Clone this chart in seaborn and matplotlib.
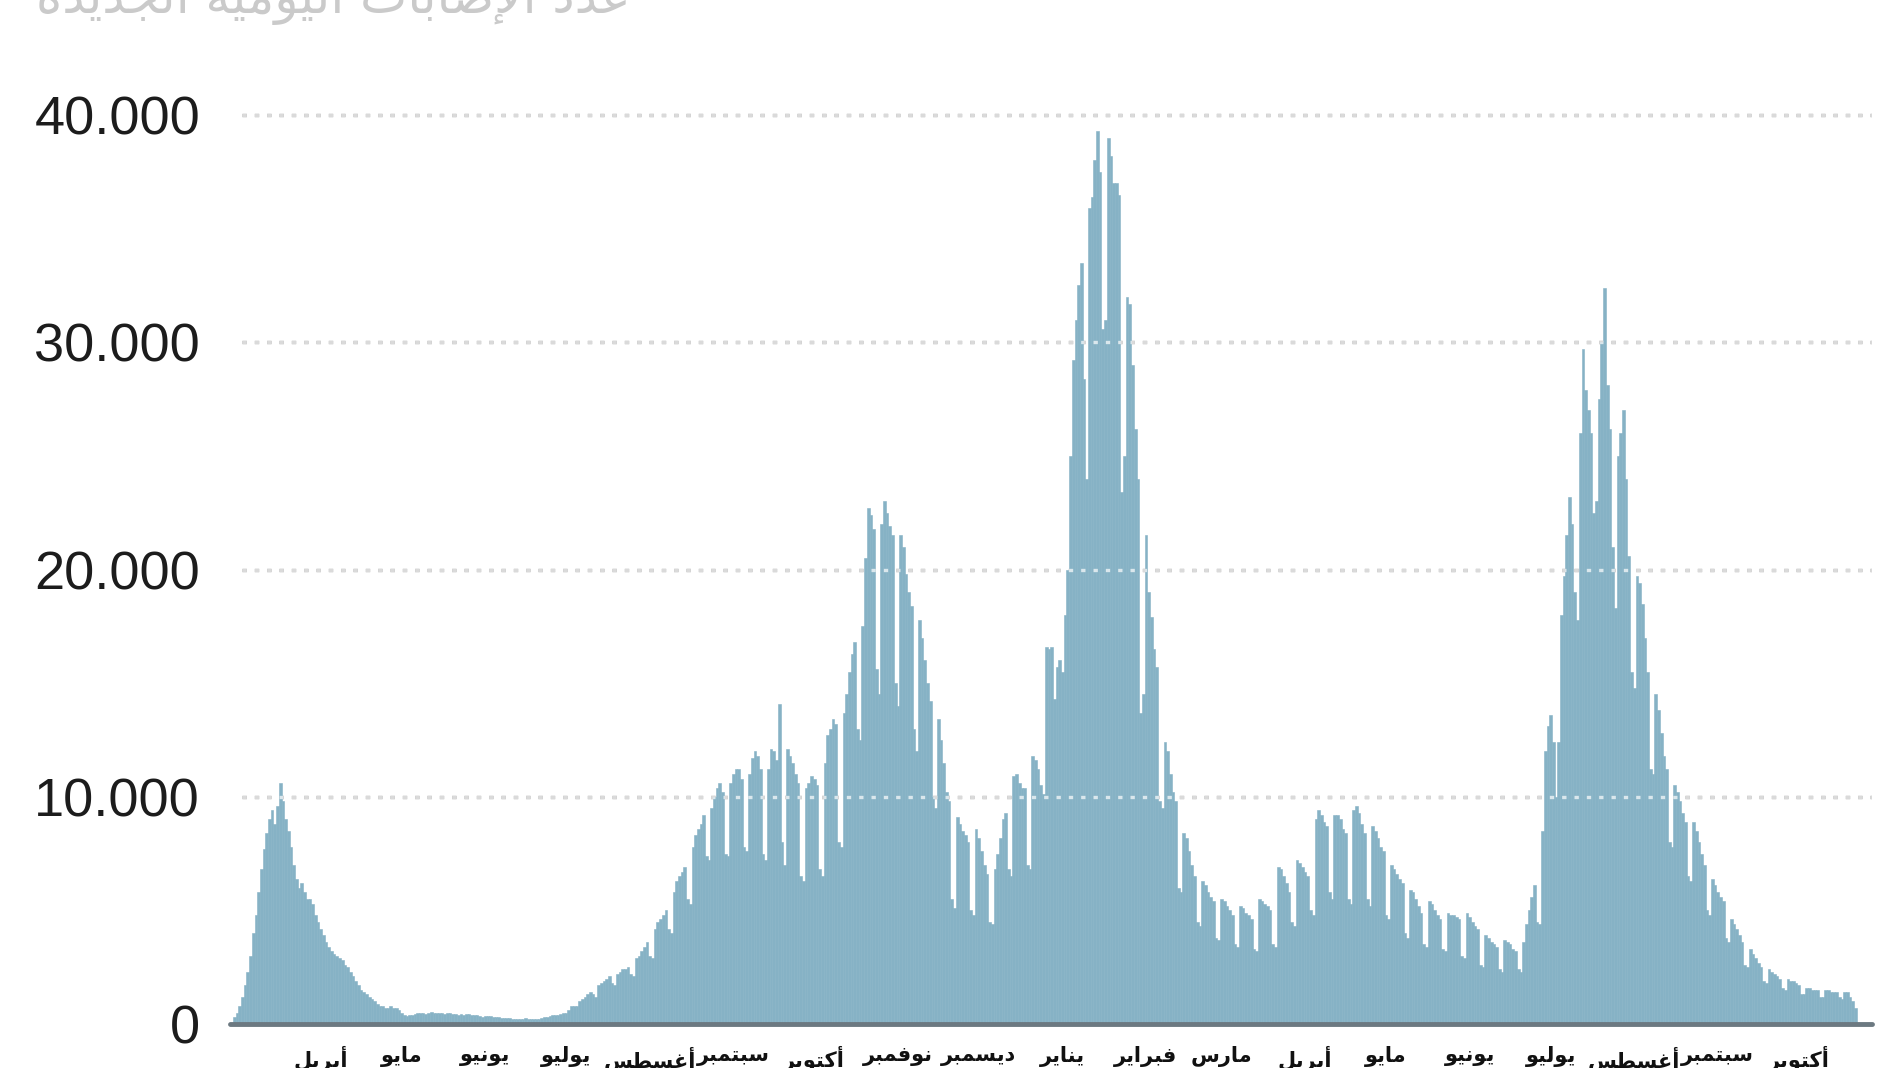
import numpy as np
import pandas as pd
import matplotlib
matplotlib.use("Agg")
import matplotlib.pyplot as plt
import seaborn as sns

# ---------------- data (daily new cases, thousands; rows = weeks Sat..Fri) ----------------
start_date = "2020-02-29"

wave1_weeks = [
    [0.3, 0.5, 0.8, 1.2, 1.7, 2.3, 3.0],
    [4.0, 4.8, 5.8, 6.8, 7.7, 8.4, 9.0],
    [9.4, 8.8, 9.6, 10.6, 9.8, 9.0, 8.5],
    [7.8, 7.0, 6.4, 6.0, 6.2, 5.8, 5.5],
    [5.5, 5.3, 4.8, 4.5, 4.2, 3.9, 3.6],
    [3.4, 3.2, 3.1, 3.0, 2.9, 2.8, 2.6],
    [2.5, 2.3, 2.1, 1.9, 1.7, 1.5, 1.4],
    [1.3, 1.2, 1.1, 1.0, 0.9, 0.8, 0.8],
    [0.7, 0.7, 0.8, 0.7, 0.7, 0.6, 0.5],
]
summer_weeks = [
    [0.4, 0.35, 0.4, 0.4, 0.45, 0.5, 0.5],
    [0.5, 0.45, 0.5, 0.55, 0.5, 0.5, 0.5],
    [0.5, 0.45, 0.5, 0.5, 0.45, 0.45, 0.4],
    [0.45, 0.4, 0.45, 0.45, 0.4, 0.4, 0.4],
    [0.35, 0.3, 0.35, 0.35, 0.35, 0.3, 0.3],
    [0.3, 0.25, 0.25, 0.25, 0.25, 0.2, 0.2],
    [0.2, 0.2, 0.2, 0.25, 0.2, 0.2, 0.2],
    [0.2, 0.2, 0.25, 0.3, 0.3, 0.35, 0.4],
    [0.4, 0.4, 0.45, 0.5, 0.5, 0.6, 0.8],
]
wave2_weeks = [
    [0.8, 0.8, 1.0, 1.1, 1.2, 1.3, 1.4],
    [1.3, 1.2, 1.7, 1.8, 1.9, 2.0, 2.1],
    [1.8, 1.7, 2.2, 2.3, 2.4, 2.4, 2.5],
    [2.2, 2.1, 2.9, 3.0, 3.2, 3.4, 3.6],
    [3.0, 2.9, 4.2, 4.5, 4.6, 4.8, 5.0],
    [4.2, 4.0, 5.8, 6.3, 6.5, 6.7, 6.9],
    [5.5, 5.3, 7.8, 8.3, 8.6, 8.8, 9.2],
    [7.4, 7.2, 9.5, 10.0, 10.4, 10.6, 10.2],
    [7.5, 7.4, 10.6, 11.0, 11.2, 11.2, 10.8],
    [7.8, 7.6, 11.0, 11.7, 12.0, 11.8, 11.2],
    [7.5, 7.2, 11.2, 12.1, 12.0, 11.6, 14.1],
    [8.0, 7.0, 12.1, 11.8, 11.5, 11.0, 10.6],
    [6.5, 6.3, 10.4, 10.6, 10.9, 10.8, 10.5],
    [6.8, 6.5, 11.5, 12.7, 13.0, 13.4, 13.2],
    [8.0, 7.8, 13.7, 14.5, 15.5, 16.3, 16.8],
    [13.0, 12.5, 17.5, 20.5, 22.7, 22.4, 21.8],
    [15.6, 14.5, 22.0, 23.0, 22.5, 21.9, 21.5],
    [15.0, 14.0, 21.5, 21.0, 19.8, 19.0, 18.4],
    [13.0, 12.0, 17.8, 17.0, 16.0, 15.0, 14.2],
    [10.0, 9.5, 13.4, 12.5, 11.5, 10.2, 9.8],
    [5.5, 5.1, 9.1, 8.8, 8.5, 8.3, 8.0],
    [5.0, 4.8, 8.6, 8.2, 7.6, 7.0, 6.6],
]
wave3_weeks = [
    [4.5, 4.4, 6.8, 7.5, 8.2, 9.0, 9.3],
    [6.8, 6.5, 10.9, 11.0, 10.6, 10.4, 10.4],
    [7.0, 6.8, 11.8, 11.6, 11.2, 10.5, 10.1],
    [16.6, 16.5, 16.6, 14.3, 15.7, 16.0, 15.5],
    [18.0, 20.0, 25.0, 29.2, 31.0, 32.5, 33.5],
    [28.4, 24.0, 35.9, 36.4, 38.0, 39.3, 37.5],
    [30.6, 31.0, 39.0, 38.2, 37.0, 37.0, 36.5],
    [23.4, 25.0, 32.0, 31.7, 29.0, 26.2, 24.0],
    [13.7, 14.5, 21.5, 19.0, 17.9, 16.5, 15.7],
    [9.8, 9.5, 12.4, 12.0, 11.0, 10.2, 9.8],
    [6.0, 5.8, 8.4, 8.2, 7.6, 7.0, 6.5],
    [4.5, 4.3, 6.3, 6.1, 5.8, 5.6, 5.4],
    [3.8, 3.7, 5.5, 5.4, 5.2, 5.0, 4.8],
    [3.5, 3.4, 5.2, 5.1, 4.9, 4.8, 4.6],
    [3.3, 3.2, 5.5, 5.4, 5.3, 5.2, 5.0],
]
wave4_weeks = [
    [3.5, 3.4, 6.9, 6.8, 6.5, 6.2, 5.8],
    [4.5, 4.3, 7.2, 7.1, 6.9, 6.7, 6.5],
    [5.0, 4.8, 9.0, 9.4, 9.2, 8.9, 8.7],
    [5.8, 5.5, 9.2, 9.2, 9.0, 8.6, 8.4],
    [5.5, 5.3, 9.4, 9.6, 9.3, 8.8, 8.4],
    [5.5, 5.2, 8.7, 8.5, 8.2, 7.8, 7.6],
    [4.8, 4.6, 7.0, 6.8, 6.6, 6.4, 6.2],
    [4.0, 3.8, 5.9, 5.8, 5.5, 5.2, 4.9],
    [3.5, 3.4, 5.4, 5.3, 5.0, 4.8, 4.6],
    [3.3, 3.2, 4.9, 4.8, 4.8, 4.7, 4.6],
    [3.0, 2.9, 4.9, 4.7, 4.5, 4.3, 4.2],
    [2.6, 2.5, 3.9, 3.8, 3.6, 3.5, 3.4],
    [2.4, 2.3, 3.7, 3.6, 3.5, 3.3, 3.2],
]
wave5_weeks = [
    [2.4, 2.3, 3.6, 4.4, 5.0, 5.6, 6.1],
    [4.5, 4.4, 8.5, 12.0, 13.1, 13.6, 12.4],
    [10.0, 12.4, 18.0, 19.7, 21.5, 23.2, 22.0],
    [19.0, 17.8, 26.0, 29.7, 27.9, 27.0, 26.0],
    [22.5, 23.0, 27.5, 30.0, 32.4, 28.1, 26.2],
    [21.0, 18.3, 25.0, 26.0, 27.0, 24.0, 20.6],
    [15.5, 14.8, 19.7, 19.4, 18.5, 17.0, 15.5],
    [11.2, 11.0, 14.5, 13.8, 12.8, 11.8, 11.2],
    [8.0, 7.8, 10.5, 10.2, 9.8, 9.3, 8.9],
    [6.5, 6.3, 8.9, 8.5, 8.0, 7.5, 7.0],
    [5.0, 4.8, 6.4, 6.1, 5.8, 5.6, 5.4],
    [3.8, 3.6, 4.6, 4.4, 4.2, 3.9, 3.6],
    [2.6, 2.5, 3.3, 3.1, 2.9, 2.7, 2.5],
    [1.9, 1.8, 2.4, 2.3, 2.2, 2.1, 2.0],
    [1.6, 1.5, 2.0, 1.9, 1.9, 1.8, 1.7],
    [1.3, 1.3, 1.6, 1.6, 1.5, 1.5, 1.5],
    [1.2, 1.2, 1.5, 1.5, 1.4, 1.4, 1.4],
    [1.2, 1.1, 1.4, 1.4, 1.2, 1.0, 0.7],
]

y_ticks = [0, 10000, 20000, 30000, 40000]
month_names = ["أبريل", "مايو", "يونيو", "يوليو", "أغسطس", "سبتمبر", "أكتوبر",
               "نوفمبر", "ديسمبر", "يناير", "فبراير", "مارس", "أبريل", "مايو",
               "يونيو", "يوليو", "أغسطس", "سبتمبر", "أكتوبر"]
title_text = "عدد الإصابات اليومية الجديدة"

# ---------------- minimal Arabic shaping (presentation forms, visual order) ----------------
FORMS = {
    '\u0627': ('\uFE8D', '\uFE8E', None, None), '\u0623': ('\uFE83', '\uFE84', None, None),
    '\u0625': ('\uFE87', '\uFE88', None, None), '\u0622': ('\uFE81', '\uFE82', None, None),
    '\u0628': ('\uFE8F', '\uFE90', '\uFE91', '\uFE92'), '\u062A': ('\uFE95', '\uFE96', '\uFE97', '\uFE98'),
    '\u0629': ('\uFE93', '\uFE94', None, None), '\u062C': ('\uFE9D', '\uFE9E', '\uFE9F', '\uFEA0'),
    '\u062D': ('\uFEA1', '\uFEA2', '\uFEA3', '\uFEA4'), '\u062F': ('\uFEA9', '\uFEAA', None, None),
    '\u0631': ('\uFEAD', '\uFEAE', None, None), '\u0632': ('\uFEAF', '\uFEB0', None, None),
    '\u0633': ('\uFEB1', '\uFEB2', '\uFEB3', '\uFEB4'), '\u0635': ('\uFEB9', '\uFEBA', '\uFEBB', '\uFEBC'),
    '\u0637': ('\uFEC1', '\uFEC2', '\uFEC3', '\uFEC4'), '\u0639': ('\uFEC9', '\uFECA', '\uFECB', '\uFECC'),
    '\u063A': ('\uFECD', '\uFECE', '\uFECF', '\uFED0'), '\u0641': ('\uFED1', '\uFED2', '\uFED3', '\uFED4'),
    '\u0643': ('\uFED9', '\uFEDA', '\uFEDB', '\uFEDC'), '\u0644': ('\uFEDD', '\uFEDE', '\uFEDF', '\uFEE0'),
    '\u0645': ('\uFEE1', '\uFEE2', '\uFEE3', '\uFEE4'), '\u0646': ('\uFEE5', '\uFEE6', '\uFEE7', '\uFEE8'),
    '\u0647': ('\uFEE9', '\uFEEA', '\uFEEB', '\uFEEC'), '\u0648': ('\uFEED', '\uFEEE', None, None),
    '\u064A': ('\uFEF1', '\uFEF2', '\uFEF3', '\uFEF4'),
}
LAM_ALEF = {'\u0627': ('\uFEFB', '\uFEFC', None, None), '\u0623': ('\uFEF7', '\uFEF8', None, None),
            '\u0625': ('\uFEF9', '\uFEFA', None, None), '\u0622': ('\uFEF5', '\uFEF6', None, None)}


def shape(text):
    toks = []
    i = 0
    while i < len(text):
        c = text[i]
        if c == '\u0644' and i + 1 < len(text) and text[i + 1] in LAM_ALEF:
            toks.append(LAM_ALEF[text[i + 1]])
            i += 2
            continue
        toks.append(FORMS.get(c, c))
        i += 1
    out = []
    for k, t in enumerate(toks):
        if isinstance(t, str):
            out.append(t)
            continue
        prev = toks[k - 1] if k > 0 else None
        nxt = toks[k + 1] if k + 1 < len(toks) else None
        join_prev = isinstance(prev, tuple) and prev[2] is not None
        join_next = t[2] is not None and isinstance(nxt, tuple)
        if join_prev and join_next:
            out.append(t[3])
        elif join_prev:
            out.append(t[1])
        elif join_next:
            out.append(t[2])
        else:
            out.append(t[0])
    return ''.join(out[::-1])


# ---------------- assemble ----------------
weeks = wave1_weeks + summer_weeks + wave2_weeks + wave3_weeks + wave4_weeks + wave5_weeks
cases = np.array([v for w in weeks for v in w]) * 1000
dates = pd.date_range(start_date, periods=len(cases), freq="D")
day = np.arange(len(cases))
df = pd.DataFrame({"day": day, "cases": cases})

month_idx = [i for i, d in enumerate(dates) if d.day == 1 and d >= pd.Timestamp("2020-04-01")]

sns.set_style("white")
plt.rcParams["font.family"] = ["Liberation Sans", "DejaVu Sans"]

W, H = 1900, 1068
fig = plt.figure(figsize=(W / 100, H / 100), dpi=100)
px_day = (1854 - 233) / (len(cases) - 1)
ax_left, ax_right, ax_bottom, ax_top = 230, 1872, 1024, 92.3
ax = fig.add_axes([ax_left / W, (H - ax_bottom) / H, (ax_right - ax_left) / W, (ax_bottom - ax_top) / H])

bar_color = "#86b2c5"
sns.barplot(data=df, x="day", y="cases", native_scale=True, width=1, color=bar_color,
            saturation=1, errorbar=None, linewidth=0.4, edgecolor=bar_color, ax=ax, zorder=2)

x0 = -0.5 - (233 - ax_left) / px_day
x1 = -0.5 + (ax_right - 233) / px_day
ax.set_xlim(x0, x1)
ax.set_ylim(0, 41000)

g0 = -0.5 + (242 - 233) / px_day
for v in y_ticks[1:]:
    ax.hlines(v, g0, x1, colors="#858585", linewidth=2.4, linestyles=(0, (1.3, 2.4)), zorder=1)
    ax.hlines(v, g0, x1, colors="white", linewidth=2.4, linestyles=(0, (1.3, 2.4)), zorder=3, alpha=0.7)
ax.axhline(0, color="#6c7981", linewidth=3.5, zorder=4, clip_on=False)

for s in ax.spines.values():
    s.set_visible(False)
ax.set_xlabel("")
ax.set_ylabel("")
ax.set_yticks(y_ticks, labels=[f"{v:,}".replace(",", ".") for v in y_ticks])
ax.tick_params(axis="y", length=0, pad=21.6, labelsize=39, labelcolor="#1c1c1c")
ax.set_xticks(month_idx, labels=[shape(n) for n in month_names])
ax.tick_params(axis="x", length=0, pad=16, labelsize=15, labelcolor="#111111")
for lab in ax.get_xticklabels():
    lab.set_fontfamily("DejaVu Sans")
    lab.set_fontweight("bold")

fig.text(36 / W, 1 - 13 / H, shape(title_text), ha="left", va="baseline", fontsize=36,
         color="#cacaca", family="DejaVu Sans")

fig.savefig("out.png", dpi=100)
